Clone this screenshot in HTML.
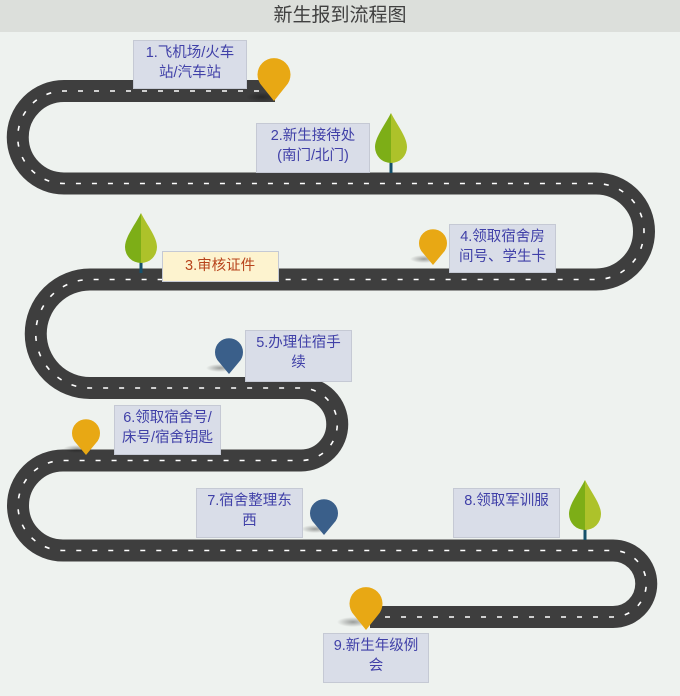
<!DOCTYPE html>
<html><head><meta charset="utf-8"><style>
body{margin:0;width:680px;height:696px;background:#eef2ef;overflow:hidden;font-family:"Liberation Sans","Noto Sans CJK SC",sans-serif}
.bar{position:absolute;left:0;top:0;width:680px;height:32px;background:#dcdfdb;text-align:center;line-height:32px;font-size:19px;color:#404040}
.b{position:absolute;background:#d9dde8;border:1px solid #c5c9d4;box-sizing:border-box;color:#4040a8;font-size:14.5px;line-height:20px;text-align:center;padding-top:2px}
</style></head><body>
<div class="bar">新生报到流程图</div>
<svg width="680" height="696" style="position:absolute;left:0;top:0">
<defs><radialGradient id="sh"><stop offset="0" stop-color="#000" stop-opacity=".35"/><stop offset="1" stop-color="#000" stop-opacity="0"/></radialGradient></defs>
<path d="M275,91 H64 A46.25,46.25 0 0 0 64,183.5 H596 A48,48 0 0 1 596,279.5 H90 A54.25,54.25 0 0 0 90,388 H301 A36.25,36.25 0 0 1 301,460.5 H63 A45,45 0 0 0 63,550.5 H613 A33.25,33.25 0 0 1 613,617 H370" fill="none" stroke="#3e3e3e" stroke-width="22"/>
<path d="M275,91 H64 A46.25,46.25 0 0 0 64,183.5 H596 A48,48 0 0 1 596,279.5 H90 A54.25,54.25 0 0 0 90,388 H301 A36.25,36.25 0 0 1 301,460.5 H63 A45,45 0 0 0 63,550.5 H613 A33.25,33.25 0 0 1 613,617 H370" fill="none" stroke="#fff" stroke-width="1.6" stroke-dasharray="5,11"/>
<g>
<g transform="translate(391,113)"><rect x="-1.5" y="44" width="3" height="16" fill="#15506a"/><path d="M0,0 C-6,12 -16,24 -16,34 A16,16 0 0 0 0,50 Z" fill="#7dae17"/><path d="M0,0 C6,12 16,24 16,34 A16,16 0 0 1 0,50 Z" fill="#adc22a"/></g>
<g transform="translate(141,213)"><rect x="-1.5" y="44" width="3" height="16" fill="#15506a"/><path d="M0,0 C-6,12 -16,24 -16,34 A16,16 0 0 0 0,50 Z" fill="#7dae17"/><path d="M0,0 C6,12 16,24 16,34 A16,16 0 0 1 0,50 Z" fill="#adc22a"/></g>
<g transform="translate(585,480)"><rect x="-1.5" y="44" width="3" height="16" fill="#15506a"/><path d="M0,0 C-6,12 -16,24 -16,34 A16,16 0 0 0 0,50 Z" fill="#7dae17"/><path d="M0,0 C6,12 16,24 16,34 A16,16 0 0 1 0,50 Z" fill="#adc22a"/></g>
</g>
<g>
<ellipse cx="262" cy="97" rx="16" ry="5" fill="url(#sh)"/>
<path d="M274,101 L262,86 A16.5,16.5 0 1 1 286,86 Z" fill="#e8a814"/>
<ellipse cx="424" cy="259" rx="14" ry="4" fill="url(#sh)"/>
<path d="M433,265 L423,253 A14,14 0 1 1 443,253 Z" fill="#e8a814"/>
<ellipse cx="220" cy="368" rx="14" ry="4" fill="url(#sh)"/>
<path d="M229,374 L219,362 A14,14 0 1 1 239,362 Z" fill="#3a5f8a"/>
<ellipse cx="77" cy="449" rx="14" ry="4" fill="url(#sh)"/>
<path d="M86,455 L76,443 A14,14 0 1 1 96,443 Z" fill="#e8a814"/>
<ellipse cx="315" cy="529" rx="14" ry="4" fill="url(#sh)"/>
<path d="M324,535 L314,523 A14,14 0 1 1 334,523 Z" fill="#3a5f8a"/>
<ellipse cx="353" cy="622" rx="16" ry="5" fill="url(#sh)"/>
<path d="M366,630 L354,615 A16.5,16.5 0 1 1 378,615 Z" fill="#e8a814"/>
</g>
</svg>
<div class="b" style="left:133px;top:40px;width:114px;height:49px">1.飞机场/火车<br>站/汽车站</div>
<div class="b" style="left:256px;top:123px;width:114px;height:50px">2.新生接待处<br>(南门/北门)</div>
<div class="b" style="left:162px;top:251px;width:117px;height:31px;background:#fdf3cf;color:#b8441c;text-align:left;padding-left:22px;padding-top:4px">3.审核证件</div>
<div class="b" style="left:449px;top:224px;width:107px;height:49px">4.领取宿舍房<br>间号、学生卡</div>
<div class="b" style="left:245px;top:330px;width:107px;height:52px">5.办理住宿手<br>续</div>
<div class="b" style="left:114px;top:405px;width:107px;height:50px">6.领取宿舍号/<br>床号/宿舍钥匙</div>
<div class="b" style="left:196px;top:488px;width:107px;height:50px">7.宿舍整理东<br>西</div>
<div class="b" style="left:453px;top:488px;width:107px;height:50px">8.领取军训服</div>
<div class="b" style="left:323px;top:633px;width:106px;height:50px">9.新生年级例<br>会</div>
</body></html>
